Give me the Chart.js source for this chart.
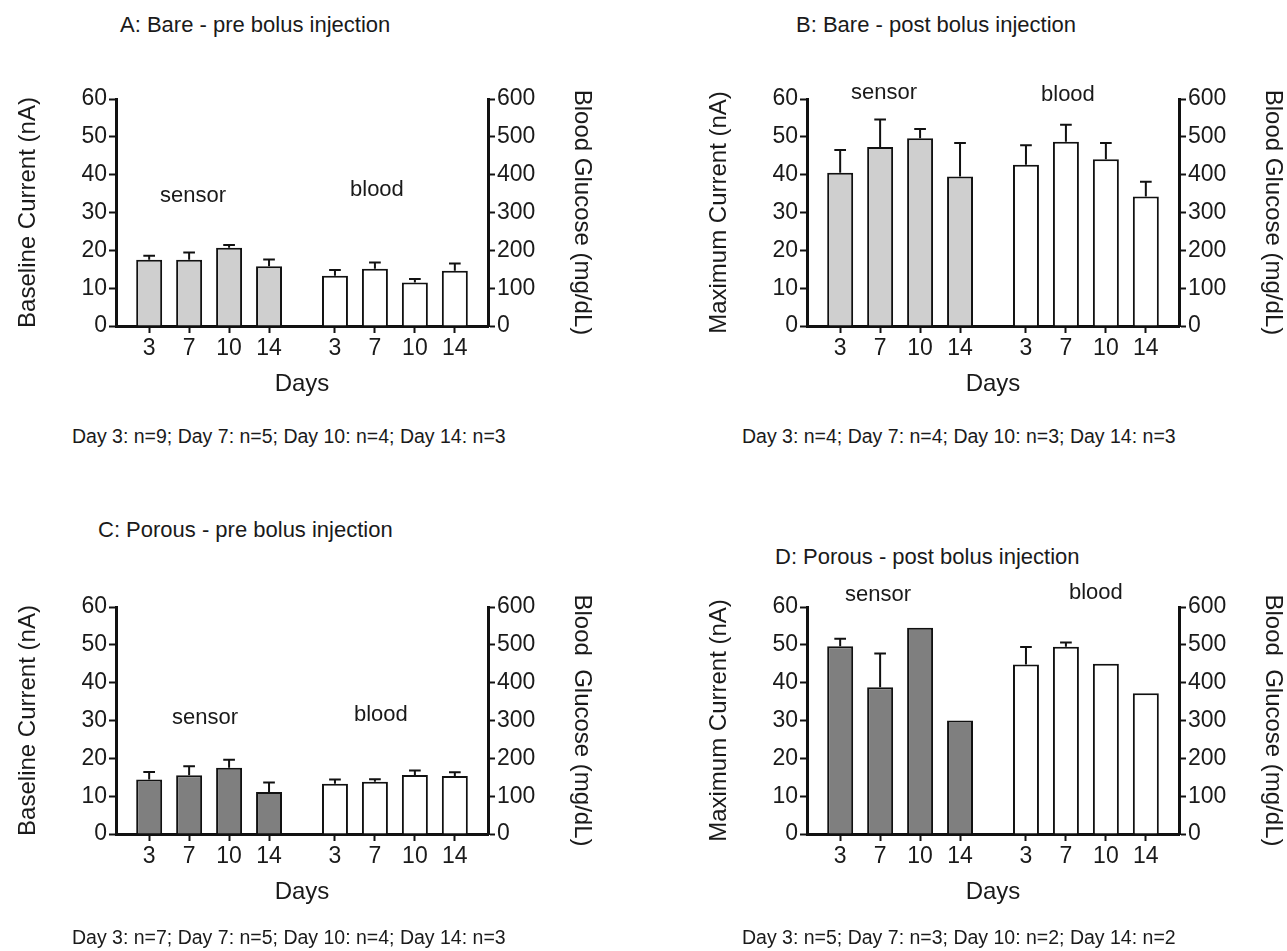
<!DOCTYPE html>
<html>
<head>
<meta charset="utf-8">
<script src="https://cdn.jsdelivr.net/npm/chart.js@4.4.1/dist/chart.umd.min.js"></script>
<style>
body{margin:0;background:#fff;width:1287px;height:951px;position:relative;overflow:hidden;font-family:"Liberation Sans",Arial,sans-serif;color:#1a1a1a}
.box{position:absolute;width:600px;height:420px}
.ttl{position:absolute;font-size:22px;white-space:nowrap}
.note{position:absolute;font-size:19.5px;white-space:nowrap}
</style>
</head>
<body>
<div class="ttl" style="left:120px;top:12px">A: Bare - pre bolus injection</div>
<div class="ttl" style="left:796px;top:12px">B: Bare - post bolus injection</div>
<div class="ttl" style="left:98px;top:517px">C: Porous - pre bolus injection</div>
<div class="ttl" style="left:775px;top:544px">D: Porous - post bolus injection</div>

<div class="box" style="left:0;top:0"><canvas id="chartA"></canvas></div>
<div class="box" style="left:691px;top:0"><canvas id="chartB"></canvas></div>
<div class="box" style="left:0;top:508px"><canvas id="chartC"></canvas></div>
<div class="box" style="left:691px;top:508px"><canvas id="chartD"></canvas></div>

<div class="note" style="left:72px;top:425px">Day 3: n=9; Day 7: n=5; Day 10: n=4; Day 14: n=3</div>
<div class="note" style="left:742px;top:425px">Day 3: n=4; Day 7: n=4; Day 10: n=3; Day 14: n=3</div>
<div class="note" style="left:72px;top:926px">Day 3: n=7; Day 7: n=5; Day 10: n=4; Day 14: n=3</div>
<div class="note" style="left:742px;top:926px">Day 3: n=5; Day 7: n=3; Day 10: n=2; Day 14: n=2</div>

<script>
// days on the x axis, same for both groups
var days = ['3', '7', '10', '14'];

// A: bare, pre bolus
var bareSensorPre = [17.5, 17.5, 20.7, 15.8];
var bareSensorPreErr = [1.1, 1.9, 0.7, 1.8];
var bareBloodPre = [133, 151, 115, 146];
var bareBloodPreErr = [15, 17, 9, 19];

// B: bare, post bolus
var bareSensorPost = [40.5, 47.3, 49.6, 39.5];
var bareSensorPostErr = [6.0, 7.3, 2.5, 8.9];
var bareBloodPost = [426, 487, 441, 342];
var bareBloodPostErr = [52, 45, 43, 39];

// C: porous, pre bolus
var porousSensorPre = [14.4, 15.5, 17.5, 11.1];
var porousSensorPreErr = [2.0, 2.4, 2.1, 2.5];
var porousBloodPre = [133, 138, 156, 153];
var porousBloodPreErr = [11, 7, 12, 10];

// D: porous, post bolus (n=2 days have no error bar)
var porousSensorPost = [49.6, 38.8, 54.5, 30.0];
var porousSensorPostErr = [2.0, 8.9, null, null];
var porousBloodPost = [448, 495, 450, 372];
var porousBloodPostErr = [46, 11, null, null];

var groupGap = 1.65;   // distance between last sensor bar and first blood bar, in bar slots
var edge = 0.83;       // space between axis and outer bars, in bar slots
var sensorX = days.map(function(d, i){ return i; });
var bloodX = days.map(function(d, i){ return i + days.length - 1 + groupGap; });
var allX = sensorX.concat(bloodX);
var allLabels = days.concat(days);

Chart.defaults.font.family = '"Liberation Sans", Arial, sans-serif';
Chart.defaults.color = '#1a1a1a';

var errorBars = {
  id: 'errorBars',
  afterDatasetsDraw: function(chart) {
    var ctx = chart.ctx;
    chart.data.datasets.forEach(function(ds, di) {
      var meta = chart.getDatasetMeta(di);
      var ys = chart.scales[meta.yAxisID];
      meta.data.forEach(function(bar, i) {
        var e = ds.errors[i];
        if (e == null) return;
        var top = ys.getPixelForValue(ds.data[i].y + e);
        var cap = bar.width * 0.45;
        ctx.save();
        ctx.strokeStyle = '#111';
        ctx.lineWidth = 2;
        ctx.beginPath();
        ctx.moveTo(bar.x, bar.y);
        ctx.lineTo(bar.x, top);
        ctx.moveTo(bar.x - cap / 2, top);
        ctx.lineTo(bar.x + cap / 2, top);
        ctx.stroke();
        ctx.restore();
      });
    });
  }
};

var groupLabels = {
  id: 'groupLabels',
  afterDraw: function(chart, args, opts) {
    var ctx = chart.ctx;
    ctx.save();
    ctx.font = '22px "Liberation Sans", Arial, sans-serif';
    ctx.fillStyle = '#1a1a1a';
    ctx.textAlign = 'center';
    ctx.textBaseline = 'middle';
    (opts.items || []).forEach(function(it) {
      ctx.fillText(it.text, chart.scales.x.getPixelForValue(it.x), chart.scales.y.getPixelForValue(it.y));
    });
    ctx.restore();
  }
};

function axisStyle() {
  return {
    border: { display: true, color: '#111', width: 3 },
    grid: { drawOnChartArea: false, drawTicks: true, tickLength: 7, tickWidth: 2, tickColor: '#111' }
  };
}

function makeChart(id, sensor, sensorErr, blood, bloodErr, sensorColor, yTitle, y2Title, labels) {
  var left = axisStyle(), right = axisStyle(), bottom = axisStyle();
  new Chart(document.getElementById(id), {
    type: 'bar',
    data: {
      datasets: [{
        label: 'sensor',
        data: sensor.map(function(v, i){ return { x: sensorX[i], y: v }; }),
        errors: sensorErr,
        yAxisID: 'y',
        backgroundColor: sensorColor,
        borderColor: '#111',
        borderWidth: 2,
        barPercentage: 0.65,
        categoryPercentage: 1,
        grouped: false
      }, {
        label: 'blood',
        data: blood.map(function(v, i){ return { x: bloodX[i], y: v }; }),
        errors: bloodErr,
        yAxisID: 'y2',
        backgroundColor: '#ffffff',
        borderColor: '#111',
        borderWidth: 2,
        barPercentage: 0.65,
        categoryPercentage: 1,
        grouped: false
      }]
    },
    options: {
      responsive: true,
      maintainAspectRatio: false,
      animation: false,
      layout: { padding: { top: 99, left: 0, right: 0, bottom: 21 } },
      plugins: {
        legend: { display: false },
        tooltip: { enabled: false },
        groupLabels: { items: labels }
      },
      scales: {
        x: {
          type: 'linear',
          offset: false,
          min: -edge,
          max: allX[allX.length - 1] + edge,
          border: bottom.border,
          grid: Object.assign({ offset: false }, bottom.grid),
          afterBuildTicks: function(s) { s.ticks = allX.map(function(v){ return { value: v }; }); },
          afterFit: function(s) { s.height = 73; },
          ticks: {
            autoSkip: false, maxRotation: 0, padding: 2,
            font: { size: 23 }, color: '#1a1a1a',
            callback: function(v, i) { return allLabels[i]; }
          },
          title: { display: true, text: 'Days', font: { size: 24 }, color: '#1a1a1a', padding: { top: 0, bottom: 0 } }
        },
        y: {
          position: 'left',
          min: 0, max: 60,
          border: left.border,
          grid: left.grid,
          afterFit: function(s) { s.width = 116; },
          ticks: { stepSize: 10, padding: 2, font: { size: 23 }, color: '#1a1a1a' },
          title: { display: true, text: yTitle, font: { size: 24 }, color: '#1a1a1a', padding: { top: 14, bottom: 0 } }
        },
        y2: {
          position: 'right',
          min: 0, max: 600,
          border: right.border,
          grid: right.grid,
          afterFit: function(s) { s.width = 112; },
          ticks: { stepSize: 100, padding: 2, font: { size: 23 }, color: '#1a1a1a' },
          title: { display: true, text: y2Title, font: { size: 24 }, color: '#1a1a1a', padding: { top: 4, bottom: 0 } }
        }
      }
    },
    plugins: [errorBars, groupLabels]
  });
}

makeChart('chartA', bareSensorPre, bareSensorPreErr, bareBloodPre, bareBloodPreErr, '#cfcfcf',
  'Baseline Current (nA)', 'Blood Glucose (mg/dL)',
  [{ text: 'sensor', x: 1.1, y: 34.5 }, { text: 'blood', x: 5.7, y: 36 }]);
makeChart('chartB', bareSensorPost, bareSensorPostErr, bareBloodPost, bareBloodPostErr, '#cfcfcf',
  'Maximum Current (nA)', 'Blood Glucose (mg/dL)',
  [{ text: 'sensor', x: 1.1, y: 61.6 }, { text: 'blood', x: 5.7, y: 61.1 }]);
makeChart('chartC', porousSensorPre, porousSensorPreErr, porousBloodPre, porousBloodPreErr, '#7f7f7f',
  'Baseline Current (nA)', 'Blood  Glucose (mg/dL)',
  [{ text: 'sensor', x: 1.4, y: 30.6 }, { text: 'blood', x: 5.8, y: 31.4 }]);
makeChart('chartD', porousSensorPost, porousSensorPostErr, porousBloodPost, porousBloodPostErr, '#7f7f7f',
  'Maximum Current (nA)', 'Blood  Glucose (mg/dL)',
  [{ text: 'sensor', x: 0.95, y: 63.1 }, { text: 'blood', x: 6.4, y: 63.8 }]);
</script>
</body>
</html>
